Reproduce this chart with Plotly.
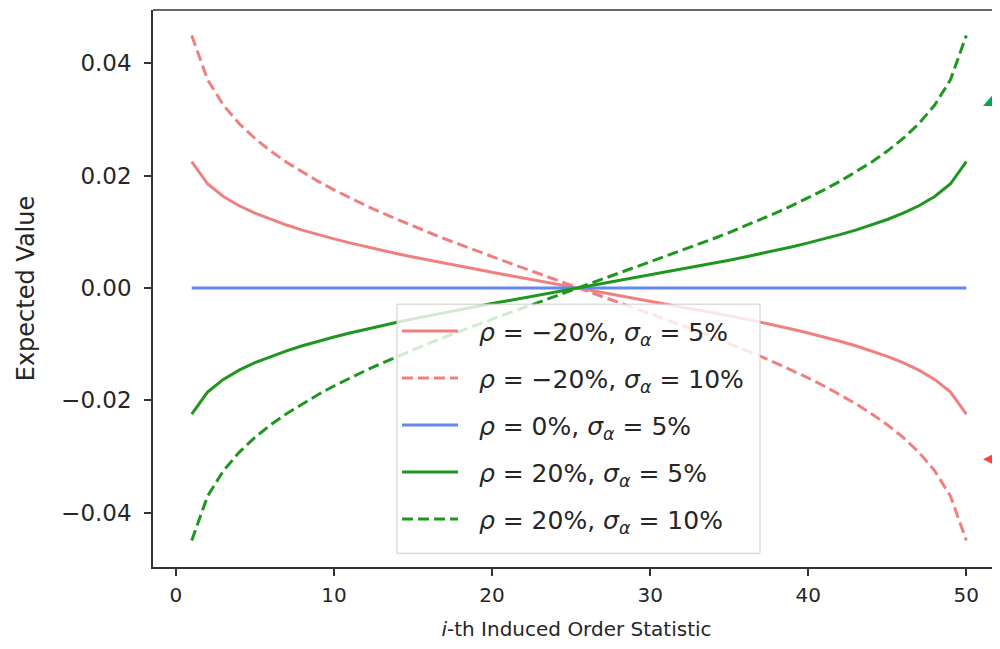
import plotly.graph_objects as go

# ---------------- data ----------------
x_index = list(range(1, 51))

red_sigma5 = [0.02249, 0.01855, 0.01629, 0.01464, 0.01331, 0.01219, 0.01120, 0.01030, 0.00949, 0.00873,
              0.00802, 0.00735, 0.00671, 0.00610, 0.00551, 0.00494, 0.00438, 0.00384, 0.00331, 0.00278,
              0.00227, 0.00176, 0.00126, 0.00076, 0.00025, -0.00025, -0.00076, -0.00126, -0.00176, -0.00227,
              -0.00278, -0.00331, -0.00384, -0.00438, -0.00494, -0.00551, -0.00610, -0.00671, -0.00735, -0.00802,
              -0.00873, -0.00949, -0.01030, -0.01120, -0.01219, -0.01331, -0.01464, -0.01629, -0.01855, -0.02249]

red_sigma10 = [0.04498, 0.03710, 0.03257, 0.02927, 0.02662, 0.02437, 0.02239, 0.02061, 0.01898, 0.01746,
               0.01604, 0.01470, 0.01342, 0.01220, 0.01102, 0.00987, 0.00876, 0.00767, 0.00661, 0.00557,
               0.00454, 0.00352, 0.00251, 0.00151, 0.00050, -0.00050, -0.00151, -0.00251, -0.00352, -0.00454,
               -0.00557, -0.00661, -0.00767, -0.00876, -0.00987, -0.01102, -0.01220, -0.01342, -0.01470, -0.01604,
               -0.01746, -0.01898, -0.02061, -0.02239, -0.02437, -0.02662, -0.02927, -0.03257, -0.03710, -0.04498]

blue_sigma5 = [0.0] * 50

green_sigma5 = [-0.02249, -0.01855, -0.01629, -0.01464, -0.01331, -0.01219, -0.01120, -0.01030, -0.00949, -0.00873,
                -0.00802, -0.00735, -0.00671, -0.00610, -0.00551, -0.00494, -0.00438, -0.00384, -0.00331, -0.00278,
                -0.00227, -0.00176, -0.00126, -0.00076, -0.00025, 0.00025, 0.00076, 0.00126, 0.00176, 0.00227,
                0.00278, 0.00331, 0.00384, 0.00438, 0.00494, 0.00551, 0.00610, 0.00671, 0.00735, 0.00802,
                0.00873, 0.00949, 0.01030, 0.01120, 0.01219, 0.01331, 0.01464, 0.01629, 0.01855, 0.02249]

green_sigma10 = [-0.04498, -0.03710, -0.03257, -0.02927, -0.02662, -0.02437, -0.02239, -0.02061, -0.01898, -0.01746,
                 -0.01604, -0.01470, -0.01342, -0.01220, -0.01102, -0.00987, -0.00876, -0.00767, -0.00661, -0.00557,
                 -0.00454, -0.00352, -0.00251, -0.00151, -0.00050, 0.00050, 0.00151, 0.00251, 0.00352, 0.00454,
                 0.00557, 0.00661, 0.00767, 0.00876, 0.00987, 0.01102, 0.01220, 0.01342, 0.01470, 0.01604,
                 0.01746, 0.01898, 0.02061, 0.02239, 0.02437, 0.02662, 0.02927, 0.03257, 0.03710, 0.04498]

legend_labels = [
    "<i>ρ</i> = −20%, <i>σ</i><sub><i>α</i></sub> = 5%",
    "<i>ρ</i> = −20%, <i>σ</i><sub><i>α</i></sub> = 10%",
    "<i>ρ</i> = 0%, <i>σ</i><sub><i>α</i></sub> = 5%",
    "<i>ρ</i> = 20%, <i>σ</i><sub><i>α</i></sub> = 5%",
    "<i>ρ</i> = 20%, <i>σ</i><sub><i>α</i></sub> = 10%",
]

x_ticks = [0, 10, 20, 30, 40, 50]
y_ticks = [-0.04, -0.02, 0.0, 0.02, 0.04]

# ---------------- styles ----------------
RED = "#F08080"
BLUE = "#6488EE"
GREEN = "#1F961F"
DASH = "11px,5px"
FONT = "DejaVu Sans"
TXT = "#262626"
W, H = 992, 633
ML, MR, MT, MB = 145, 0, 2, 74.3

series = [
    (red_sigma5, RED, "solid"),
    (red_sigma10, RED, DASH),
    (blue_sigma5, BLUE, "solid"),
    (green_sigma5, GREEN, "solid"),
    (green_sigma10, GREEN, DASH),
]

fig = go.Figure()
for i, ((vals, col, dash), name) in enumerate(zip(series, legend_labels)):
    fig.add_trace(go.Scatter(
        x=x_index, y=vals, mode="lines", name="\u00a0\u00a0" + name,
        line=dict(color=col, width=3, dash=dash),
        legendgroup=f"g{i}",
    ))

PW, PH = W - ML - MR, H - MT - MB


def to_paper(px, py):
    return (px - ML) / PW, (H - MB - py) / PH


def px_path(points):
    segs = []
    for k, (px, py) in enumerate(points):
        xp, yp = to_paper(px, py)
        segs.append(("M" if k == 0 else "L") + f"{xp:.5f},{yp:.5f}")
    return " ".join(segs) + " Z"


# decorative arrowheads cut by the right edge (figure pixels)
green_head = [(975, 98), (997, 98), (990, 81)]
red_head = [(975, 451), (997, 440), (997, 462)]

# legend frame (figure pixels)
lx0, ly0 = to_paper(389, 545)
lx1, ly1 = to_paper(752, 296)
leg_x, leg_y = to_paper(389, 300)

fig.update_layout(
    width=W, height=H,
    margin=dict(l=ML, r=MR, t=MT, b=MB, autoexpand=False),
    paper_bgcolor="white", plot_bgcolor="white",
    font=dict(family=FONT, size=20, color=TXT),
    showlegend=True,
    legend=dict(
        x=leg_x, y=leg_y, xanchor="left", yanchor="top",
        bgcolor="rgba(0,0,0,0)", borderwidth=0,
        font=dict(family=FONT, size=25, color=TXT),
        itemwidth=56, tracegroupgap=11.5,
    ),
    xaxis=dict(
        range=[-1.45, 52.13], tickvals=x_ticks, ticks="outside", ticklen=7, tickwidth=1.5,
        tickcolor="#333333", showline=True, linecolor="#333333", linewidth=1.6,
        showgrid=False, zeroline=False, tickfont=dict(size=20, color=TXT),
        ticklabelstandoff=2, automargin=False,
        title=dict(text="<i>i</i>-th Induced Order Statistic", font=dict(size=20, color=TXT), standoff=20),
    ),
    yaxis=dict(
        range=[-0.0497, 0.0495], tickvals=y_ticks, tickformat=".2f", ticks="outside", ticklen=7,
        tickwidth=1.5, tickcolor="#333333", showline=True, linecolor="#333333", linewidth=1.6,
        showgrid=False, zeroline=False, tickfont=dict(size=23, color=TXT),
        ticklabelstandoff=8, automargin=False,
        title=dict(text="Expected Value", font=dict(size=24, color=TXT), standoff=20),
    ),
    shapes=[
        dict(type="line", xref="paper", yref="paper", x0=0, x1=1, y0=1, y1=1,
             line=dict(color="#333333", width=1.6)),
        dict(type="rect", xref="paper", yref="paper", x0=lx0, y0=ly0, x1=lx1, y1=ly1,
             fillcolor="rgba(255,255,255,0.8)", line=dict(color="#CCCCCC", width=1), layer="above"),
        dict(type="path", xref="paper", yref="paper", path=px_path(green_head),
             fillcolor="#00A651", line=dict(width=0)),
        dict(type="path", xref="paper", yref="paper", path=px_path(red_head),
             fillcolor="#FF4040", line=dict(width=0)),
    ],
)

fig.write_html("out.html")
